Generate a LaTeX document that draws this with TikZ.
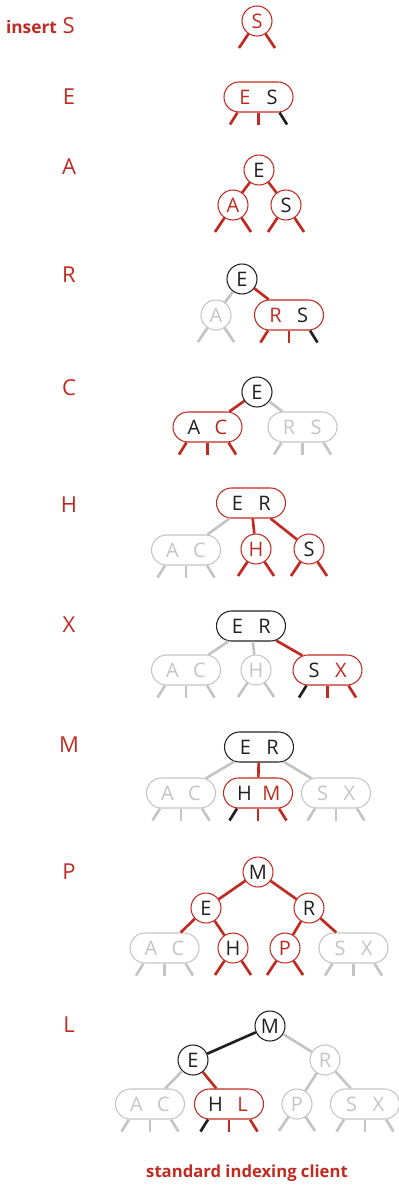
\documentclass[tikz,border=0pt]{standalone}
\usepackage{fontspec}
\setmainfont{Open Sans}
\usetikzlibrary{shapes.misc,calc}
\definecolor{myred}{RGB}{192,43,33}
\definecolor{myblack}{RGB}{35,31,32}
\definecolor{mygray}{RGB}{196,196,198}
\newcommand\twok[4]{\makebox[20.25pt]{\color{#1}#2}\makebox[20.25pt]{\color{#3}#4}}
\newcommand\cleaf[3]{%
  \path (#1) ++(-18,27) coordinate (#1-l) (#1) ++(18,27) coordinate (#1-r);
  \draw[ln,#2] (#1) -- (#1-l);
  \draw[ln,#3] (#1) -- (#1-r);}
\newcommand\pleaf[4]{%
  \path (#1.south) ++(-28.5,12) coordinate (#1-l) (#1.south) ++(0,12) coordinate (#1-m) (#1.south) ++(28.5,12) coordinate (#1-r);
  \draw[ln,#2] ($(#1.south)+(-21,0)$) -- (#1-l);
  \draw[ln,#3] (#1.south) -- (#1-m);
  \draw[ln,#4] ($(#1.south)+(21,0)$) -- (#1-r);}
\begin{document}
\begin{tikzpicture}[x=0.75pt,y=-0.75pt,
  nf/.style={font=\fontsize{15}{18}\selectfont},
  cn/.style={circle,draw,line width=0.8pt,minimum size=22.5pt,inner sep=0pt,nf},
  pn/.style={rounded rectangle,draw,line width=0.8pt,minimum width=51.75pt,minimum height=22.5pt,inner sep=0pt,nf},
  nr/.style={draw=myred}, nk/.style={draw=myblack,text=myblack}, ng/.style={draw=mygray,text=mygray},
  tr/.style={text=myred}, tk/.style={text=myblack},
  ln/.style={line width=2pt}, cr/.style={draw=myred}, ck/.style={draw=myblack}, cg/.style={draw=mygray},
  lab/.style={text=myred,font=\fontsize{16.5}{20}\selectfont}]
\useasboundingbox (0,0) rectangle (399,1189);

% T1
\node[lab,anchor=east,inner sep=0pt] (l1) at (75,26) {{\fontsize{13}{15}\selectfont\bfseries insert} S};
\node[cn,nr,tr] (s1) at (257,21) {S};
\cleaf{s1}{cr}{cr}

% T2
\node[lab] (l2) at (69,97) {E};
\node[pn,nr] (es2) at (258.5,97) {\twok{myred}{E}{myblack}{S}};
\pleaf{es2}{cr}{cr}{ck}

% T3
\node[lab] (l3) at (69,167) {A};
\node[cn,nr,tk] (e3) at (259,170) {E};
\node[cn,nr,tr] (a3) at (233,205) {A};
\node[cn,nr,tk] (s3) at (286,205) {S};
\draw[ln,cr] (e3) -- (a3);
\draw[ln,cr] (e3) -- (s3);
\cleaf{a3}{cr}{cr}
\cleaf{s3}{cr}{cr}

% T4
\node[lab] (l4) at (69,275) {R};
\node[cn,nk] (e4) at (242,279) {E};
\node[cn,ng] (a4) at (216,315) {A};
\node[pn,nr] (rs4) at (289,315) {\twok{myred}{R}{myblack}{S}};
\draw[ln,cg] (e4) -- (a4);
\draw[ln,cr] (e4) -- (rs4);
\cleaf{a4}{cg}{cg}
\pleaf{rs4}{cr}{cr}{ck}

% T5
\node[lab] (l5) at (69,388) {C};
\node[cn,nk] (e5) at (257,392) {E};
\node[pn,nr] (ac5) at (207.5,427) {\twok{myblack}{A}{myred}{C}};
\node[pn,ng] (rs5) at (302.5,427) {\twok{mygray}{R}{mygray}{S}};
\draw[ln,cr] (e5) -- (ac5);
\draw[ln,cg] (e5) -- (rs5);
\pleaf{ac5}{cr}{cr}{cr}
\pleaf{rs5}{cg}{cg}{cg}

% T6
\node[lab] (l6) at (69,505) {H};
\node[pn,nr] (er6) at (251,503) {\twok{myblack}{E}{myblack}{R}};
\node[pn,ng] (ac6) at (186,550) {\twok{mygray}{A}{mygray}{C}};
\node[cn,nr,tr] (h6) at (256,549) {H};
\node[cn,nr,tk] (s6) at (309,549) {S};
\draw[ln,cg] (er6) -- (ac6);
\draw[ln,cr] (er6) -- (h6);
\draw[ln,cr] (er6) -- (s6);
\pleaf{ac6}{cg}{cg}{cg}
\cleaf{h6}{cr}{cr}
\cleaf{s6}{cr}{cr}

% T7
\node[lab] (l7) at (69,625) {X};
\node[pn,nk] (er7) at (251,626) {\twok{myblack}{E}{myblack}{R}};
\node[pn,ng] (ac7) at (186,670) {\twok{mygray}{A}{mygray}{C}};
\node[cn,ng] (h7) at (256,670) {H};
\node[pn,nr] (sx7) at (327.5,670) {\twok{myblack}{S}{myred}{X}};
\draw[ln,cg] (er7) -- (ac7);
\draw[ln,cg] (er7) -- (h7);
\draw[ln,cr] (er7) -- (sx7);
\pleaf{ac7}{cg}{cg}{cg}
\cleaf{h7}{cg}{cg}
\pleaf{sx7}{ck}{cr}{cr}

% T8
\node[lab] (l8) at (69,745) {M};
\node[pn,nk] (er8) at (259,747) {\twok{myblack}{E}{myblack}{R}};
\node[pn,ng] (ac8) at (181,793) {\twok{mygray}{A}{mygray}{C}};
\node[pn,nr] (hm8) at (258,793) {\twok{myblack}{H}{myred}{M}};
\node[pn,ng] (sx8) at (336,793) {\twok{mygray}{S}{mygray}{X}};
\draw[ln,cg] (er8) -- (ac8);
\draw[ln,cr] (er8) -- (hm8);
\draw[ln,cg] (er8) -- (sx8);
\pleaf{ac8}{cg}{cg}{cg}
\pleaf{hm8}{ck}{cr}{cr}
\pleaf{sx8}{cg}{cg}{cg}

% T9
\node[lab] (l9) at (69,872) {P};
\node[cn,nr,tk] (m9) at (258,872) {M};
\node[cn,nr,tk] (e9) at (206,908) {E};
\node[cn,nr,tk] (r9) at (309,908) {R};
\node[pn,ng] (ac9) at (164.5,948) {\twok{mygray}{A}{mygray}{C}};
\node[cn,nr,tk] (h9) at (233,948) {H};
\node[cn,nr,tr] (p9) at (285,948) {P};
\node[pn,ng] (sx9) at (353.5,948) {\twok{mygray}{S}{mygray}{X}};
\draw[ln,cr] (m9) -- (e9);
\draw[ln,cr] (m9) -- (r9);
\draw[ln,cr] (e9) -- (ac9);
\draw[ln,cr] (e9) -- (h9);
\draw[ln,cr] (r9) -- (p9);
\draw[ln,cr] (r9) -- (sx9);
\pleaf{ac9}{cg}{cg}{cg}
\cleaf{h9}{cr}{cr}
\cleaf{p9}{cr}{cr}
\pleaf{sx9}{cg}{cg}{cg}

% T10
\node[lab] (l10) at (69,1025) {L};
\node[cn,nk] (m10) at (270,1026) {M};
\node[cn,nk] (e10) at (193,1060) {E};
\node[cn,ng] (r10) at (325,1060) {R};
\node[pn,ng] (ac10) at (150,1104) {\twok{mygray}{A}{mygray}{C}};
\node[pn,nr] (hl10) at (229,1104) {\twok{myblack}{H}{myred}{L}};
\node[cn,ng] (p10) at (297,1104) {P};
\node[pn,ng] (sx10) at (365,1104) {\twok{mygray}{S}{mygray}{X}};
\draw[ln,ck] (m10) -- (e10);
\draw[ln,cg] (m10) -- (r10);
\draw[ln,cg] (e10) -- (ac10);
\draw[ln,cr] (e10) -- (hl10);
\draw[ln,cg] (r10) -- (p10);
\draw[ln,cg] (r10) -- (sx10);
\pleaf{ac10}{cg}{cg}{cg}
\pleaf{hl10}{ck}{cr}{cr}
\cleaf{p10}{cg}{cg}
\pleaf{sx10}{cg}{cg}{cg}

% caption
\node[text=myred,font=\fontsize{12.5}{15}\selectfont\bfseries] (cap) at (247,1173) {standard indexing client};
\end{tikzpicture}
\end{document}
